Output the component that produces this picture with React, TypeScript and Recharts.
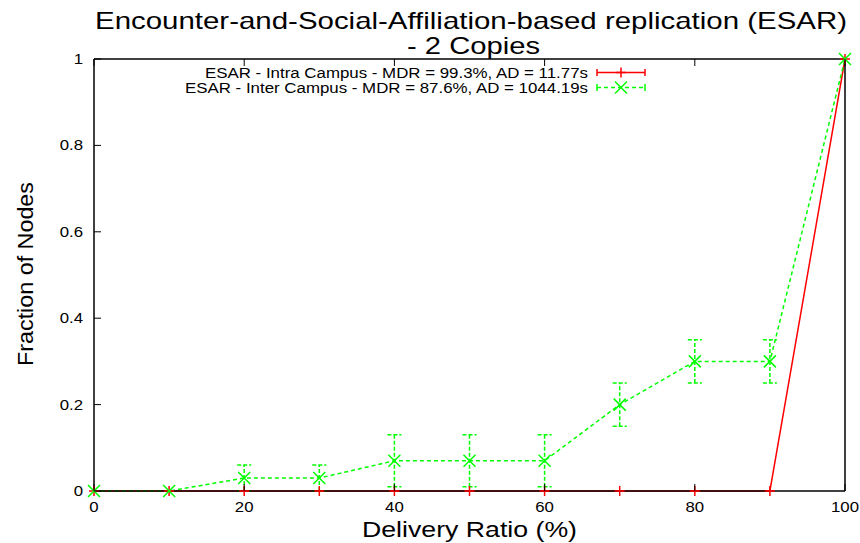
import { LineChart, Line, XAxis, YAxis, ErrorBar } from 'recharts'

// ESAR 2 copies — fraction of nodes vs delivery ratio, gnuplot look

const ratios = [0, 10, 20, 30, 40, 50, 60, 70, 80, 90, 100]
const intraCampus = [0, 0, 0, 0, 0, 0, 0, 0, 0, 0, 1]
const interCampus = [0, 0, 0.03, 0.03, 0.07, 0.07, 0.07, 0.2, 0.3, 0.3, 1]
const interErr = [0, 0, 0.03, 0.03, 0.06, 0.06, 0.06, 0.05, 0.05, 0.05, 0]

const xTicks = [0, 20, 40, 60, 80, 100]
const yTicks = [0, 0.2, 0.4, 0.6, 0.8, 1]

const intraLabel = 'ESAR - Intra Campus - MDR = 99.3%, AD = 11.77s'
const interLabel = 'ESAR - Inter Campus - MDR = 87.6%, AD = 1044.19s'

const data = ratios.map((r, i) => ({
  ratio: r,
  intra: intraCampus[i],
  inter: interCampus[i],
  interErr: interErr[i],
}))

const RED = '#ff0000'
const GREEN = '#00ff00'
const FONT = '"Liberation Sans", Arial, sans-serif'
// the original png is a bit stretched sideways
const SX = 1.12

function BottomTick({ x, y, payload }: any) {
  return (
    <g>
      <line x1={x} y1={y} x2={x} y2={y - 7} stroke="#000" strokeWidth={1} />
      <text
        transform={`translate(${x},${y + 21}) scale(${SX},1)`}
        textAnchor="middle"
        fontSize={15}
        fontFamily={FONT}
        fill="#000"
      >
        {payload.value}
      </text>
    </g>
  )
}

function TopTick({ x, y }: any) {
  return <line x1={x} y1={y} x2={x} y2={y + 7} stroke="#000" strokeWidth={1} />
}

function LeftTick({ x, y, payload }: any) {
  return (
    <g>
      <line x1={x} y1={y} x2={x + 7} y2={y} stroke="#000" strokeWidth={1} />
      <text
        transform={`translate(${x - 11},${y + 5}) scale(${SX},1)`}
        textAnchor="end"
        fontSize={15}
        fontFamily={FONT}
        fill="#000"
      >
        {payload.value}
      </text>
    </g>
  )
}

function RightTick({ x, y }: any) {
  return <line x1={x} y1={y} x2={x - 7} y2={y} stroke="#000" strokeWidth={1} />
}

function PlusDot({ cx, cy, index }: any) {
  return (
    <path
      key={'p' + index}
      d={`M${cx - 5},${cy}H${cx + 5}M${cx},${cy - 5}V${cy + 5}`}
      stroke={RED}
      strokeWidth={1.5}
      fill="none"
    />
  )
}

function CrossDot({ cx, cy, index }: any) {
  const s = 6
  return (
    <path
      key={'x' + index}
      d={`M${cx - s},${cy - s}L${cx + s},${cy + s}M${cx - s},${cy + s}L${cx + s},${cy - s}`}
      stroke={GREEN}
      strokeWidth={1.5}
      fill="none"
    />
  )
}

function Overlay() {
  const rows = [
    { label: intraLabel, color: RED, dash: undefined, mark: 'plus', x0: 205, base: 78, y: 72.5 },
    { label: interLabel, color: GREEN, dash: '4 3', mark: 'cross', x0: 185, base: 93, y: 87.5 },
  ]
  return (
    <svg
      width={860}
      height={543}
      style={{ position: 'absolute', left: 0, top: 0, pointerEvents: 'none' }}
      fontFamily={FONT}
    >
      <text x={95} y={29} fontSize={24} textLength={752} lengthAdjust="spacingAndGlyphs" fill="#000">
        Encounter-and-Social-Affiliation-based replication (ESAR)
      </text>
      <text x={407} y={54} fontSize={24} textLength={133} lengthAdjust="spacingAndGlyphs" fill="#000">
        - 2 Copies
      </text>
      <text x={362} y={537} fontSize={22} textLength={215} lengthAdjust="spacingAndGlyphs" fill="#000">
        Delivery Ratio (%)
      </text>
      <text
        transform="translate(33,366) rotate(-90)"
        fontSize={22}
        textLength={184}
        lengthAdjust="spacingAndGlyphs"
        fill="#000"
      >
        Fraction of Nodes
      </text>
      {rows.map((r, i) => (
        <g key={i}>
          <text
            x={r.x0}
            y={r.base}
            fontSize={14}
            textLength={588 - r.x0}
            lengthAdjust="spacingAndGlyphs"
            fill="#000"
          >
            {r.label}
          </text>
          <line x1={597} y1={r.y} x2={645} y2={r.y} stroke={r.color} strokeWidth={1.5} strokeDasharray={r.dash} />
          <line x1={597} y1={r.y - 3.5} x2={597} y2={r.y + 3.5} stroke={r.color} strokeWidth={1.5} />
          <line x1={645} y1={r.y - 3.5} x2={645} y2={r.y + 3.5} stroke={r.color} strokeWidth={1.5} />
          {r.mark === 'plus' ? (
            <path d={`M616,${r.y}H626M621,${r.y - 5}V${r.y + 5}`} stroke={r.color} strokeWidth={1.5} />
          ) : (
            <path
              d={`M615,${r.y - 6}L627,${r.y + 6}M615,${r.y + 6}L627,${r.y - 6}`}
              stroke={r.color}
              strokeWidth={1.5}
            />
          )}
        </g>
      ))}
    </svg>
  )
}

export default function App() {
  return (
    <div style={{ position: 'absolute', left: 0, top: 0, width: 860, height: 543, background: '#fff' }}>
      <LineChart width={860} height={543} data={data} margin={{ top: 0, right: 0, bottom: 0, left: 0 }}>
        <XAxis
          dataKey="ratio"
          type="number"
          domain={[0, 100]}
          ticks={xTicks}
          height={52}
          tickSize={0}
          tickMargin={0}
          tickLine={false}
          axisLine={{ stroke: '#000', strokeWidth: 1.5 }}
          tick={BottomTick}
          interval={0}
        />
        <XAxis
          xAxisId="top"
          orientation="top"
          dataKey="ratio"
          type="number"
          domain={[0, 100]}
          ticks={xTicks}
          height={59}
          tickSize={0}
          tickMargin={0}
          tickLine={false}
          axisLine={{ stroke: '#000', strokeWidth: 1.5 }}
          tick={TopTick}
          interval={0}
        />
        <YAxis
          type="number"
          domain={[0, 1]}
          ticks={yTicks}
          width={94}
          tickSize={0}
          tickMargin={0}
          tickLine={false}
          axisLine={{ stroke: '#000', strokeWidth: 1.5 }}
          tick={LeftTick}
          interval={0}
        />
        <YAxis
          yAxisId="right"
          orientation="right"
          type="number"
          domain={[0, 1]}
          ticks={yTicks}
          width={15}
          tickSize={0}
          tickMargin={0}
          tickLine={false}
          axisLine={{ stroke: '#000', strokeWidth: 1.5 }}
          tick={RightTick}
          interval={0}
        />
        <Line
          dataKey="intra"
          stroke={RED}
          strokeWidth={1.5}
          dot={PlusDot}
          activeDot={false}
          isAnimationActive={false}
        />
        <Line
          dataKey="inter"
          stroke={GREEN}
          strokeWidth={1.5}
          strokeDasharray="4 3"
          dot={CrossDot}
          activeDot={false}
          isAnimationActive={false}
        >
          <ErrorBar
            dataKey="interErr"
            direction="y"
            width={7}
            stroke={GREEN}
            strokeWidth={1.5}
            strokeDasharray="4 2"
            isAnimationActive={false}
          />
        </Line>
      </LineChart>
      <Overlay />
    </div>
  )
}
